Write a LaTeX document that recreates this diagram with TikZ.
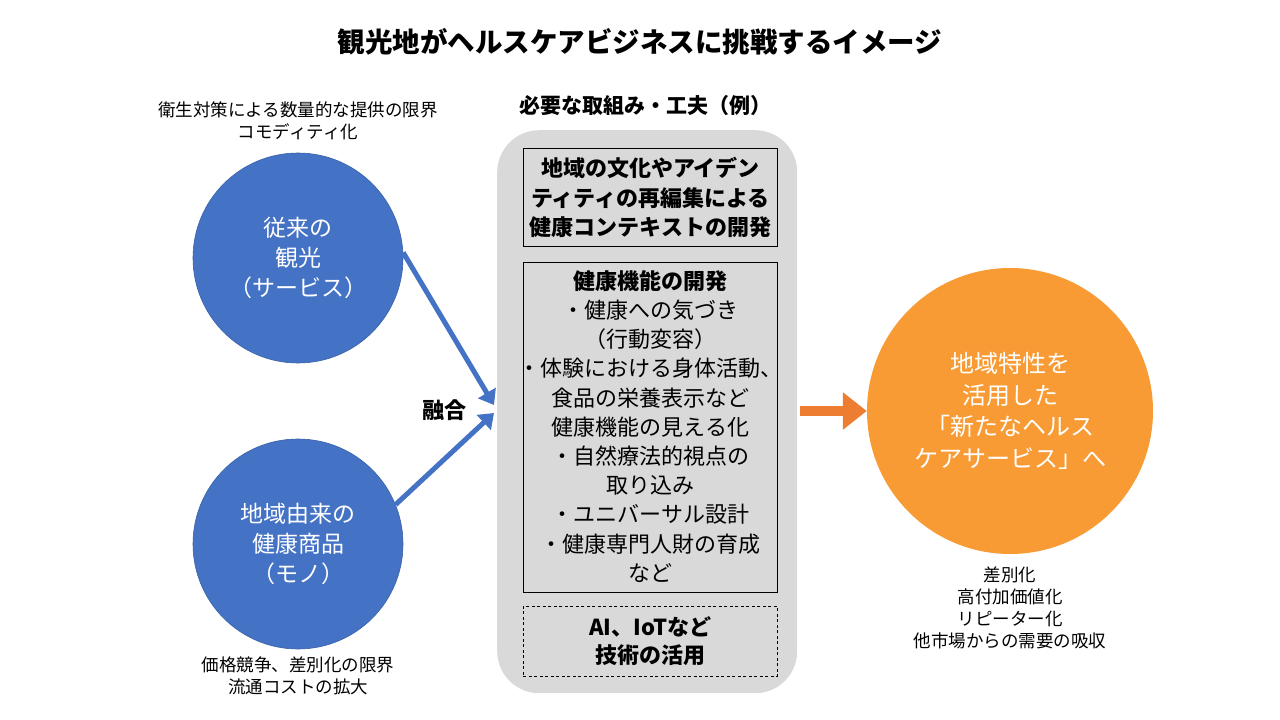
\documentclass[tikz,border=0pt]{standalone}
\usepackage{fontspec}
\setmainfont{Noto Sans CJK JP}
\usetikzlibrary{arrows.meta}
\definecolor{cblue}{HTML}{4472C4}
\definecolor{cgrey}{HTML}{D9D9D9}
\definecolor{corange}{HTML}{F89B35}
\definecolor{carrow}{HTML}{ED7D31}
\begin{document}
\begin{tikzpicture}[x=1pt,y=-1pt,
  note/.style={align=center,font=\fontsize{17.5}{22}\selectfont,inner sep=0pt},
  bluecirc/.style={circle,fill=cblue,draw=cblue!85!black,line width=0.6pt,minimum size=210pt,inner sep=0pt,text=white,align=center,font=\fontsize{23}{30}\selectfont},
  innerbox/.style={draw=black,line width=0.9pt,fill=cgrey,minimum width=254pt,inner sep=0pt,anchor=north west},
  bluearrow/.style={draw=cblue,line width=5pt,-{Triangle[length=14pt,width=20pt]}},
]
\useasboundingbox (0,0) rectangle (1280,720);
% title
\node[font=\fontsize{27.5}{32}\selectfont\bfseries] (title) at (640,42) {観光地がヘルスケアビジネスに挑戦するイメージ};
% notes
\node[note] (n1) at (298,121) {衛生対策による数量的な提供の限界\\コモディティ化};
\node[note] (n2) at (298,676) {価格競争、差別化の限界\\流通コストの拡大};
\node[note] (n3) at (1010,608) {差別化\\高付加価値化\\リピーター化\\他市場からの需要の吸収};
% circles
\node[bluecirc] (c1) at (298,258) {従来の\\観光\\（サービス）};
\node[bluecirc] (c2) at (298,544) {地域由来の\\健康商品\\（モノ）};
\node[circle,fill=corange,minimum size=286pt,inner sep=0pt,text=white,align=center,font=\fontsize{24}{31.5}\selectfont] (c3) at (1010,411) {地域特性を\\活用した\\「新たなヘルス\\ケアサービス」へ};
% header of middle
\node[font=\fontsize{21}{26}\selectfont\bfseries] (hdr) at (645,106) {必要な取組み・工夫（例）};
% grey panel
\node[fill=cgrey,rounded corners=42pt,minimum width=300pt,minimum height=563pt,inner sep=0pt,anchor=north west] (panel) at (497,130) {};
% box 1
\node[innerbox,minimum height=98pt] (b1) at (523,148) {};
\node[align=center,font=\fontsize{22}{29.5}\selectfont\bfseries] (t1) at (b1.center) {地域の文化やアイデン\\ティティの再編集による\\健康コンテキストの開発};
% box 2
\node[innerbox,minimum height=330pt] (b2) at (523,262) {};
\node[align=center,font=\fontsize{22}{29.2}\selectfont] (t2) at ([yshift=1pt]b2.center) {{\bfseries 健康機能の開発}\\・健康への気づき\\（行動変容）\\・体験における身体活動、\\食品の栄養表示など\\健康機能の見える化\\・自然療法的視点の\\取り込み\\・ユニバーサル設計\\・健康専門人財の育成\\など};
% box 3
\node[innerbox,draw=black,dash pattern=on 3pt off 2.5pt,line width=0.9pt,minimum height=70pt] (b3) at (523,606) {};
\node[align=center,font=\fontsize{22}{28}\selectfont\bfseries] (t3) at (b3.center) {AI、IoTなど\\技術の活用};
% arrows
\coordinate (m1) at (494,405);
\coordinate (m2) at (494,413);
\draw[bluearrow] (c1.3) -- (m1);
\draw[bluearrow] (c2.22) -- (m2);
\node[font=\fontsize{22}{26}\selectfont\bfseries] (fuse) at (444,410) {融合};
\coordinate (o1) at (800,411);
\draw[draw=carrow,line width=10pt,-{Triangle[length=24pt,width=36pt]}] (o1) -- (c3.west);
\end{tikzpicture}
\end{document}
